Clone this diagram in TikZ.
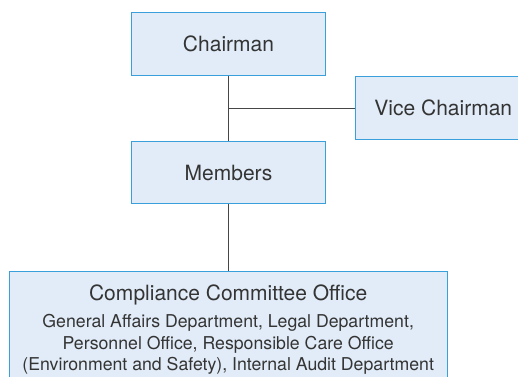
\documentclass[tikz,border=0pt]{standalone}
\usepackage{fontspec}
\setmainfont{TeX Gyre Heros}
\usepackage{xcolor}
\usepackage{tikz}
\definecolor{boxfill}{RGB}{225,236,248}
\definecolor{boxline}{RGB}{58,160,220}
\definecolor{linkgray}{RGB}{70,70,70}
\definecolor{textgray}{RGB}{52,52,52}

\begin{document}
\begin{tikzpicture}[
    x=1pt,
    y=-1pt,
    box/.style={
        draw=boxline,
        fill=boxfill,
        line width=1pt,
        text=textgray,
        inner sep=0pt,
        font=\fontsize{21}{25}\selectfont
    },
    link/.style={
        draw=linkgray,
        line width=0.9pt
    }
]


\useasboundingbox (0,0) rectangle (518,376);
\clip (0,0) rectangle (518,376);


\node[box, minimum width=194pt, minimum height=63pt] (chair) at (228.5,43.7) {Chairman};
\node[box, minimum width=176pt, minimum height=62.6pt] (vice) at (443.3,108) {Vice Chairman};
\node[box, minimum width=194pt, minimum height=62pt] (members) at (228.5,172.7) {Members};


\node[box, anchor=north, minimum width=438.3pt, inner ysep=13.5pt, align=center,
      font=\fontsize{17.7}{21.5}\selectfont] (office) at (228.2,270.7)
    {{\fontsize{21}{21}\selectfont Compliance Committee Office}\\[6pt]
     General Affairs Department, Legal Department,\\
     Personnel Office, Responsible Care Office\\
     (Environment and Safety), Internal Audit Department};


\coordinate (fork) at (chair.south |- vice.west);

\draw[link] (chair) -- (members);
\draw[link] (fork) -- (vice);
\draw[link] (members.south) -- (members.south |- office.north);

\end{tikzpicture}
\end{document}
